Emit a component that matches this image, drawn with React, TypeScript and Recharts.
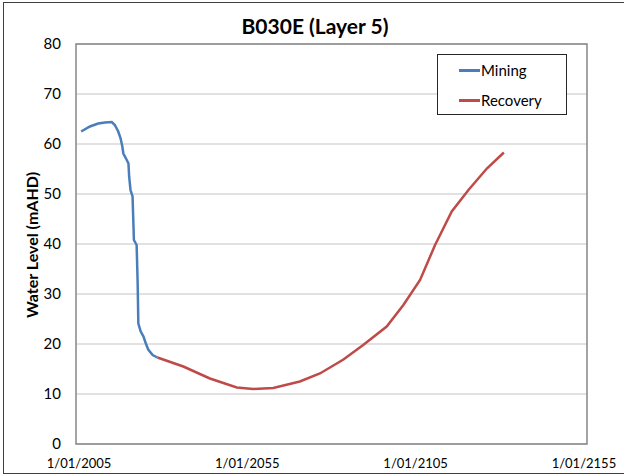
import { LineChart, Line, XAxis, YAxis, CartesianGrid, ReferenceArea } from "recharts";

// years (decimal) and water level (mAHD)
const miningYears = [
  2006.5, 2009.1, 2011.5, 2013.5, 2015.5, 2016.4, 2017.4, 2018.1, 2018.6, 2018.9, 2019.9, 2020.4, 2020.6, 2021.0,
  2021.6, 2022.0, 2022.8, 2023.1, 2023.3, 2024.0, 2024.8, 2025.5, 2026.2, 2027.5, 2028.9,
];
const miningLevels = [
  62.5, 63.5, 64.1, 64.3, 64.4, 63.8, 62.5, 61.1, 59.5, 58.1, 56.8, 56.1, 53.5, 50.8,
  49.5, 40.8, 39.8, 32.1, 24.1, 22.5, 21.5, 20.1, 18.9, 17.8, 17.3,
];

const recoveryYears = [
  2028.9, 2036.5, 2044.3, 2052.2, 2057.0, 2062.9, 2070.7, 2076.6, 2083.5, 2089.3, 2096.2, 2101.1, 2106.0, 2110.4,
  2115.3, 2120.2, 2125.6, 2130.6,
];
const recoveryLevels = [
  17.3, 15.5, 13.1, 11.3, 11.0, 11.2, 12.5, 14.1, 16.9, 19.8, 23.5, 27.8, 32.8, 39.8,
  46.5, 50.8, 55.1, 58.3,
];

const xTicks = [2005, 2055, 2105, 2155];
const yTicks = [0, 10, 20, 30, 40, 50, 60, 70, 80];

const mining = miningYears.map((year, i) => ({ year, level: miningLevels[i] }));
const recovery = recoveryYears.map((year, i) => ({ year, level: recoveryLevels[i] }));

const font = "Lato, 'Open Sans', sans-serif";

// Excel pulls the end date labels slightly inward
function DateTick(props: any) {
  const { x, y, payload } = props;
  const mid = 331.5;
  const tx = mid + (x - mid) * 0.988;
  return (
    <text x={tx} y={y} dy={22} textAnchor="middle" fontFamily={font} fontSize={13} fill="#000">
      {`1/01/${payload.value}`}
    </text>
  );
}

function LegendBox() {
  const items = [
    { name: "Mining", color: "#4a7ebb" },
    { name: "Recovery", color: "#be4b48" },
  ];
  return (
    <div style={{ position: "absolute", left: 437, top: 54, width: 130, height: 61, border: "1px solid #262626", background: "#fff", boxSizing: "border-box" }}>
      {items.map(it => (
        <div key={it.name} style={{ display: "flex", alignItems: "center", height: 30, paddingLeft: 21, fontFamily: font, fontSize: 15, color: "#000" }}>
          <span style={{ display: "inline-block", width: 21, height: 3, background: it.color }} />
          <span style={{ marginLeft: 1 }}>{it.name}</span>
        </div>
      ))}
    </div>
  );
}

export default function App() {
  return (
    <div style={{ position: "absolute", left: 0, top: 0, width: 624, height: 475, background: "#fff", overflow: "hidden" }}>
      <div style={{ position: "absolute", left: 3, top: 2, width: 630, height: 470, borderLeft: "1.5px solid #404040", borderTop: "1.5px solid #404040", borderBottom: "1.5px solid #404040" }} />
      <div style={{ position: "absolute", left: 0, top: 13, width: 630, textAlign: "center", fontFamily: font, fontWeight: 700, fontSize: 21 }}>
        B030E (Layer 5)
      </div>
      <div style={{ position: "absolute", left: 31, top: 245, transform: "translate(-50%, -50%) rotate(-90deg)", whiteSpace: "nowrap", fontFamily: font, fontWeight: 700, fontSize: 16 }}>
        Water Level (mAHD)
      </div>
      <LineChart width={624} height={475} margin={{ top: 44, right: 37, bottom: 1, left: 36 }} style={{ position: "absolute", left: 0, top: 0 }}>
        <CartesianGrid vertical={false} stroke="#c4c4c4" strokeWidth={1} />
        <XAxis
          type="number"
          dataKey="year"
          domain={[2005, 2155]}
          ticks={xTicks}
          axisLine={false}
          tickLine={false}
          tickSize={0}
          tickMargin={2}
          height={30}
          interval={0}
          tick={<DateTick />}
          allowDataOverflow
        />
        <YAxis
          type="number"
          domain={[0, 80]}
          ticks={yTicks}
          axisLine={false}
          tickLine={false}
          tickSize={0}
          tickMargin={15}
          width={40}
          interval={0}
          tick={{ fontFamily: font, fontSize: 15, fill: "#000" }}
        />
        <ReferenceArea x1={2005} x2={2155} y1={0} y2={80} fill="none" stroke="#868686" strokeWidth={1.5} ifOverflow="visible" />
        <Line data={mining} dataKey="level" name="Mining" type="linear" stroke="#4a7ebb" strokeWidth={2.5} dot={false} isAnimationActive={false} />
        <Line data={recovery} dataKey="level" name="Recovery" type="linear" stroke="#be4b48" strokeWidth={2.5} dot={false} isAnimationActive={false} />
      </LineChart>
      <LegendBox />
    </div>
  );
}
